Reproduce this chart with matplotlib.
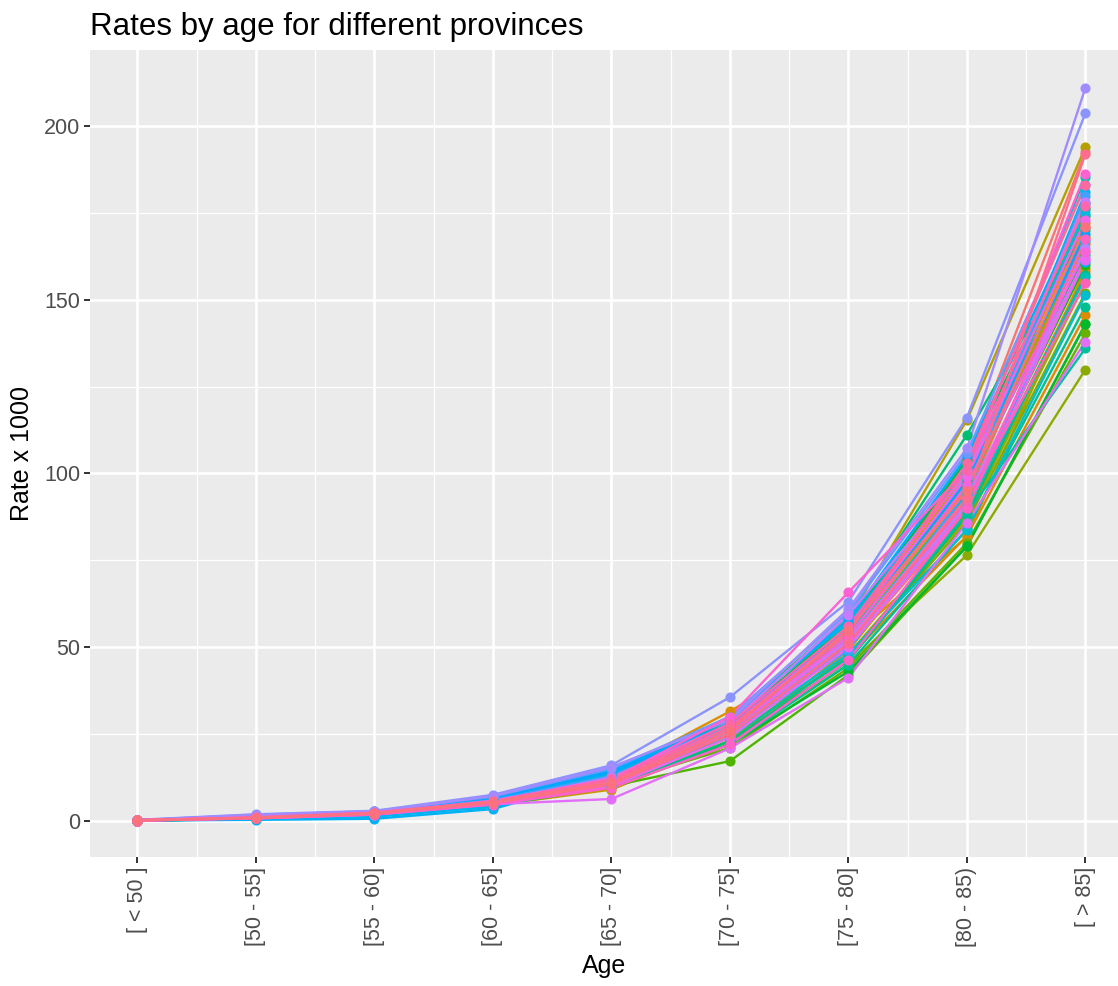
import numpy as np
import matplotlib
matplotlib.use("Agg")
import matplotlib.pyplot as plt
from matplotlib.ticker import MultipleLocator

# Age groups (x axis)
age_groups = ['[ < 50 ]', '[50 - 55]', '[55 - 60]', '[60 - 65]', '[65 - 70]',
              '[70 - 75]', '[75 - 80]', '[80 - 85)', '[ > 85]']

# 52 provinces, in factor order (only used as group / colour key)
provinces = ['P%02d' % k for k in range(1, 53)]

# Rate x 1000 per age group, one value per province (same order as provinces)
rate_lt50 = [0.2, 0.1, 0.2, 0.2, 0.1, 0.2, 0.2, 0.1, 0.2, 0.2, 0.1, 0.1, 0.1,
             0.2, 0.1, 0.1, 0.2, 0.1, 0.2, 0.2, 0.2, 0.1, 0.1, 0.1, 0.2, 0.2,
             0.2, 0.1, 0.2, 0.2, 0.1, 0.1, 0.2, 0.2, 0.2, 0.2, 0.3, 0.2, 0.2,
             0.2, 0.1, 0.1, 0.1, 0.2, 0.2, 0.2, 0.1, 0.1, 0.2, 0.2, 0.1, 0.2]
rate_50_55 = [1.0, 0.8, 0.9, 1.1, 0.7, 1.2, 1.0, 0.6, 0.9, 1.1, 0.8, 0.6, 0.7,
              0.8, 0.7, 0.5, 0.9, 0.7, 0.9, 1.0, 1.1, 0.6, 0.7, 0.8, 1.0, 0.9,
              0.8, 0.6, 1.0, 1.2, 0.5, 0.3, 1.5, 1.4, 1.3, 1.7, 1.9, 1.8, 1.2,
              1.0, 0.9, 0.7, 0.8, 0.9, 0.9, 1.0, 0.7, 0.8, 1.0, 0.9, 0.8, 0.9]
rate_55_60 = [2.2, 2.0, 1.9, 2.3, 1.7, 2.5, 2.4, 1.6, 2.1, 2.6, 1.8, 1.5, 1.8,
              1.9, 1.7, 1.4, 2.0, 1.6, 2.2, 2.1, 2.4, 1.5, 1.6, 1.8, 2.3, 2.0,
              1.9, 1.5, 2.2, 2.5, 1.2, 0.6, 2.7, 2.6, 2.3, 2.8, 2.9, 2.7, 2.2,
              2.1, 2.0, 1.8, 1.9, 2.1, 2.0, 2.3, 1.8, 2.0, 2.4, 2.3, 2.1, 2.2]
rate_60_65 = [5.5, 5.2, 5.0, 5.6, 4.6, 6.0, 5.8, 4.5, 5.3, 6.1, 4.9, 4.4, 4.8,
              5.0, 4.7, 4.2, 5.1, 4.4, 5.4, 5.5, 5.9, 4.3, 4.5, 4.9, 5.7, 5.2,
              5.0, 4.6, 5.6, 6.2, 4.0, 3.4, 6.8, 6.5, 6.0, 7.0, 7.5, 7.2, 5.8,
              5.5, 5.2, 4.8, 5.0, 5.4, 5.3, 5.6, 4.7, 5.1, 5.7, 5.5, 5.2, 5.4]
rate_65_70 = [12.0, 11.0, 12.0, 13.0, 10.0, 13.5, 12.5, 9.0, 11.0, 13.0, 10.5,
              9.5, 10.0, 11.0, 10.5, 10.0, 11.0, 11.5, 12.0, 12.0, 13.0, 10.0,
              10.0, 11.0, 12.5, 11.5, 13.0, 12.0, 13.5, 14.0, 12.0, 13.0, 14.5,
              14.0, 13.0, 15.0, 16.0, 15.5, 12.0, 12.5, 11.0, 6.3, 10.0, 11.5,
              11.0, 12.0, 9.5, 10.5, 12.0, 11.5, 10.5, 11.0]
rate_70_75 = [27.0, 25.0, 26.0, 28.0, 24.0, 31.5, 29.0, 23.0, 27.0, 30.0, 25.0,
              22.0, 23.0, 24.0, 21.0, 17.2, 25.0, 22.0, 28.0, 27.0, 29.0, 23.0,
              22.0, 24.0, 28.0, 26.0, 27.0, 25.0, 28.0, 30.0, 26.0, 27.0, 29.0,
              28.0, 26.0, 30.0, 35.6, 29.0, 25.0, 28.0, 26.0, 20.9, 24.0, 27.0,
              26.0, 30.0, 22.0, 25.0, 28.0, 27.0, 25.0, 26.0]
rate_75_80 = [55.0, 51.0, 50.0, 53.0, 47.0, 52.0, 54.0, 49.0, 55.0, 58.0, 52.0,
              48.0, 45.0, 47.0, 44.0, 42.0, 50.0, 43.0, 57.0, 56.0, 59.0, 46.0,
              45.0, 47.0, 56.0, 51.0, 52.0, 48.0, 54.0, 57.0, 53.0, 50.0, 58.0,
              55.0, 49.2, 60.0, 63.1, 61.0, 51.0, 59.3, 52.0, 41.2, 50.0, 55.0,
              53.0, 65.8, 46.3, 51.0, 56.0, 54.0, 51.1, 55.0]
rate_80_85 = [103.9, 93.0, 89.0, 96.0, 82.0, 81.8, 98.0, 92.0, 100.0, 115.4,
              95.0, 87.0, 76.5, 86.0, 80.0, 79.1, 91.0, 79.0, 104.0, 97.0,
              111.1, 88.0, 84.0, 88.6, 102.0, 90.0, 94.0, 83.7, 99.0, 101.0,
              97.0, 92.0, 105.0, 98.0, 95.0, 106.0, 116.1, 107.2, 91.0, 100.0,
              93.0, 85.8, 90.0, 99.0, 96.7, 101.0, 90.0, 92.0, 101.0, 103.0,
              93.0, 95.0]
rate_gt85 = [192.6, 171.0, 158.0, 166.0, 145.6, 159.0, 172.0, 164.0, 176.0,
             193.9, 168.0, 155.0, 129.9, 152.0, 140.3, 142.9, 160.0, 143.0,
             174.0, 163.0, 170.0, 157.0, 148.0, 136.0, 185.3, 156.6, 176.0,
             151.4, 175.0, 167.0, 181.0, 161.0, 178.0, 169.0, 180.0, 183.0,
             203.7, 211.0, 165.0, 178.2, 162.0, 137.9, 161.4, 173.0, 163.8,
             186.3, 167.6, 154.7, 177.0, 183.0, 192.0, 171.0]

rates = np.array([rate_lt50, rate_50_55, rate_55_60, rate_60_65, rate_65_70,
                  rate_70_75, rate_75_80, rate_80_85, rate_gt85]).T


def hcl_to_hex(h, c=100.0, l=65.0):
    # polar Luv -> sRGB, like R's hcl()
    hr = np.deg2rad(h)
    u = c * np.cos(hr)
    v = c * np.sin(hr)
    xn, yn, zn = 95.047, 100.0, 108.883
    un = 4 * xn / (xn + 15 * yn + 3 * zn)
    vn = 9 * yn / (xn + 15 * yn + 3 * zn)
    y = yn * ((l + 16) / 116) ** 3
    up = u / (13 * l) + un
    vp = v / (13 * l) + vn
    x = y * 9 * up / (4 * vp)
    z = y * (12 - 3 * up - 20 * vp) / (4 * vp)
    xyz = np.array([x, y, z]) / 100
    m = np.array([[3.240479, -1.537150, -0.498535],
                  [-0.969256, 1.875992, 0.041556],
                  [0.055648, -0.204043, 1.057311]])
    rgb = m @ xyz
    rgb = np.where(rgb > 0.0031308, 1.055 * np.abs(rgb) ** (1 / 2.4) - 0.055,
                   12.92 * rgb)
    rgb = np.clip(rgb, 0, 1)
    return '#%02x%02x%02x' % tuple(int(round(ch * 255)) for ch in rgb)


n = len(provinces)
hues = np.linspace(15, 375, n + 1)[:-1]
colors = [hcl_to_hex(h) for h in hues]

plt.rcParams['font.family'] = ['Liberation Sans', 'DejaVu Sans']

fig = plt.figure(figsize=(11.18, 9.86), dpi=100)
ax = fig.add_axes([90 / 1118, 129 / 986, 1028 / 1118, 807 / 986])
ax.set_facecolor('#EBEBEB')

x = np.arange(1, len(age_groups) + 1)

# lines first, then points (as ggplot layers)
for i in range(n):
    ax.plot(x, rates[i], color=colors[i], lw=1.7, zorder=2,
            solid_capstyle='butt')
for i in range(n):
    ax.plot(x, rates[i], 'o', color=colors[i], ms=7.3, mec='none', zorder=3)

ax.set_xlim(0.6, 0.6 + 1028 / 118.5)
ax.set_ylim(-10.4, 221.9)

ax.set_xticks(x)
ax.set_xticklabels(age_groups, rotation=90, va='top', ha='center')
ax.set_xticks(x[:-1] + 0.5, minor=True)
ax.yaxis.set_major_locator(MultipleLocator(50))
ax.yaxis.set_minor_locator(MultipleLocator(25))

ax.grid(which='major', color='white', lw=1.9, zorder=0)
ax.grid(which='minor', color='white', lw=0.9, zorder=0)
ax.set_axisbelow(True)
for s in ax.spines.values():
    s.set_visible(False)

ax.tick_params(which='major', length=4, width=1.4, color='#333333',
               labelcolor='#4D4D4D', labelsize=15.5, pad=3)
ax.tick_params(which='minor', length=0)

ax.set_xlabel('Age', fontsize=18, labelpad=5)
ax.set_ylabel('Rate x 1000', fontsize=18, labelpad=7)
ax.set_title('Rates by age for different provinces', fontsize=22.5, loc='left',
             pad=11)

fig.savefig('out.png', dpi=100)
